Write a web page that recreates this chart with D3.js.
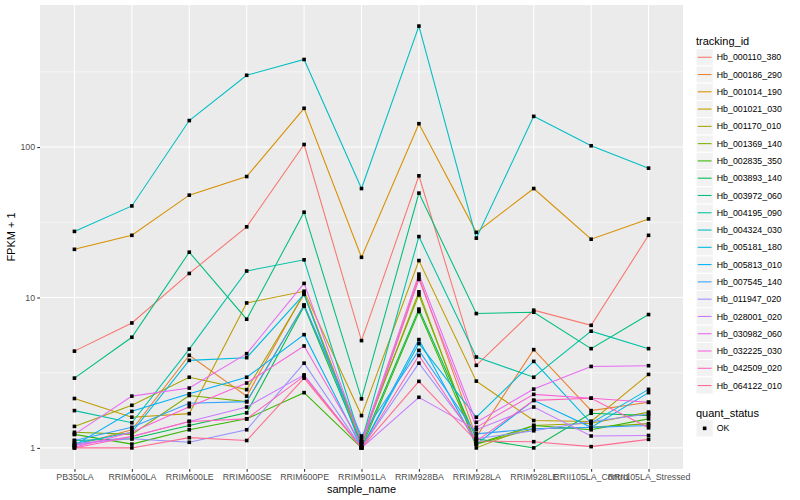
<!DOCTYPE html>
<html>
<head>
<meta charset="utf-8">
<script src="https://cdn.jsdelivr.net/npm/d3@7"></script>
<style>
  body { margin: 0; background: #fff; }
  text { font-family: "Liberation Sans", Arial, sans-serif; }
</style>
</head>
<body>
<svg id="chart" width="800" height="500"></svg>
<script>
// x categories
var samples = ["PB350LA", "RRIM600LA", "RRIM600LE", "RRIM600SE", "RRIM600PE", "RRIM901LA",
  "RRIM928BA", "RRIM928LA", "RRIM928LE", "RRII105LA_Control", "RRII105LA_Stressed"];

// series names and colours (ggplot hue palette)
var trackingIds = ["Hb_000110_380", "Hb_000186_290", "Hb_001014_190", "Hb_001021_030", "Hb_001170_010",
  "Hb_001369_140", "Hb_002835_350", "Hb_003893_140", "Hb_003972_060", "Hb_004195_090",
  "Hb_004324_030", "Hb_005181_180", "Hb_005813_010", "Hb_007545_140", "Hb_011947_020",
  "Hb_028001_020", "Hb_030982_060", "Hb_032225_030", "Hb_042509_020", "Hb_064122_010"];
var colors = ["#F8766D", "#EA8331", "#D89000", "#C09B00", "#A3A500", "#7CAE00", "#39B600", "#00BB4E",
  "#00BF7D", "#00C1A3", "#00BFC4", "#00BAE0", "#00B0F6", "#35A2FF", "#9590FF", "#C77CFF",
  "#E76BF3", "#FA62DB", "#FF62BC", "#FF6C91"];

// FPKM + 1, one array per tracking id, in sample order
var fpkm = [
  [4.4, 6.77, 14.45, 29.5, 104, 5.17, 64.4, 3.54, 8.23, 6.53, 25.9],
  [1.04, 1.32, 4.13, 2.21, 10.7, 1.05, 13.7, 1.18, 4.5, 1.77, 2.01],
  [20.9, 25.9, 47.9, 63.7, 181, 18.5, 143, 27.1, 53, 24.4, 33.3],
  [2.13, 1.6, 1.69, 9.2, 11.0, 1.64, 17.6, 2.78, 1.52, 1.50, 3.08],
  [1.39, 1.92, 2.95, 2.44, 10.5, 1.1, 10.9, 1.0, 1.41, 1.46, 1.73],
  [1.27, 1.23, 2.23, 2.03, 8.9, 1.15, 10.4, 1.06, 1.34, 1.37, 1.45],
  [1.23, 1.06, 1.32, 1.56, 2.33, 1.0, 8.07, 1.06, 1.41, 1.32, 1.56],
  [1.12, 1.15, 1.41, 1.71, 8.74, 1.05, 8.37, 1.15, 1.0, 1.70, 1.64],
  [2.91, 5.44, 20, 7.17, 36.9, 2.12, 49.4, 7.82, 7.98, 4.57, 7.7],
  [1.77, 1.47, 4.54, 15.0, 17.8, 1.1, 25.4, 4.02, 2.95, 5.97, 4.57],
  [27.5, 40.6, 150, 300, 382, 53, 637, 24.8, 160, 102, 72.4],
  [1.07, 1.27, 3.82, 3.98, 10.5, 1.0, 4.94, 1.6, 3.76, 1.46, 2.45],
  [1.04, 1.75, 2.29, 2.95, 5.66, 1.0, 5.25, 1.06, 2.07, 1.37, 2.33],
  [1.12, 1.37, 1.98, 2.03, 8.9, 1.2, 4.45, 1.24, 1.34, 1.37, 1.41],
  [1.07, 1.15, 1.09, 1.32, 3.66, 1.0, 3.66, 1.15, 1.30, 1.50, 1.68],
  [1.04, 1.19, 1.50, 1.87, 3.06, 1.0, 2.17, 1.32, 1.87, 1.20, 1.21],
  [1.23, 2.21, 2.5, 4.23, 12.4, 1.1, 14.3, 1.48, 2.46, 3.48, 3.52],
  [1.01, 1.27, 1.88, 2.70, 4.76, 1.05, 13.2, 1.37, 2.27, 2.14, 2.01],
  [1.0, 1.19, 1.5, 1.56, 3.0, 1.0, 4.12, 1.11, 2.07, 2.14, 1.36],
  [1.0, 1.0, 1.17, 1.12, 2.91, 1.0, 2.77, 1.11, 1.10, 1.02, 1.14]
];

var yTicks = [1, 10, 100];
var yMinor = [Math.pow(10, 0.5), Math.pow(10, 1.5), Math.pow(10, 2.5)];

var margin = {left: 40, top: 5, right: 117, bottom: 31};
var width = 800 - margin.left - margin.right;
var height = 500 - margin.top - margin.bottom;

var svg = d3.select("#chart");
var g = svg.append("g")
    .attr("transform", "translate(" + margin.left + "," + margin.top + ")");

// scales
var x = d3.scalePoint()
    .domain(samples)
    .range([0, width])
    .padding(0.6);

var allVals = fpkm.flat();
var lo = Math.log10(d3.min(allVals)), hi = Math.log10(d3.max(allVals));
var pad = (hi - lo) * 0.05;
var y = d3.scaleLog()
    .domain([Math.pow(10, lo - pad), Math.pow(10, hi + pad)])
    .range([height, 0]);

// panel
g.append("rect")
    .attr("width", width)
    .attr("height", height)
    .attr("fill", "#EBEBEB");

// gridlines
g.append("g").selectAll("line")
    .data(yMinor)
    .join("line")
    .attr("x1", 0).attr("x2", width)
    .attr("y1", d => y(d)).attr("y2", d => y(d))
    .attr("stroke", "#fff")
    .attr("stroke-width", 0.53);

g.append("g").selectAll("line")
    .data(yTicks)
    .join("line")
    .attr("x1", 0).attr("x2", width)
    .attr("y1", d => y(d)).attr("y2", d => y(d))
    .attr("stroke", "#fff")
    .attr("stroke-width", 1.07);

g.append("g").selectAll("line")
    .data(samples)
    .join("line")
    .attr("x1", d => x(d)).attr("x2", d => x(d))
    .attr("y1", 0).attr("y2", height)
    .attr("stroke", "#fff")
    .attr("stroke-width", 1.07);

// lines
var line = d3.line()
    .x((d, i) => x(samples[i]))
    .y(d => y(d));

g.append("g").selectAll("path")
    .data(fpkm)
    .join("path")
    .attr("d", d => line(d))
    .attr("fill", "none")
    .attr("stroke", (d, i) => colors[i])
    .attr("stroke-width", 1.07);

// points
var pts = [];
fpkm.forEach(function(s) {
    s.forEach(function(v, i) { pts.push({s: samples[i], v: v}); });
});
var ps = 3.6;
g.append("g").selectAll("rect")
    .data(pts)
    .join("rect")
    .attr("x", d => x(d.s) - ps / 2)
    .attr("y", d => y(d.v) - ps / 2)
    .attr("width", ps)
    .attr("height", ps)
    .attr("fill", "#000");

// axes
var xAxis = g.append("g")
    .attr("transform", "translate(0," + height + ")")
    .call(d3.axisBottom(x).tickSizeInner(2.75).tickSizeOuter(0).tickPadding(2.2));
var yAxis = g.append("g")
    .call(d3.axisLeft(y).tickValues(yTicks).tickFormat(d3.format("d"))
        .tickSizeInner(2.75).tickSizeOuter(0).tickPadding(2.2));

[xAxis, yAxis].forEach(function(a) {
    a.select(".domain").remove();
    a.selectAll(".tick line").attr("stroke", "#333333").attr("stroke-width", 1.07);
    a.selectAll(".tick text").attr("fill", "#4D4D4D").style("font-size", "8.8px")
        .style("font-family", "Liberation Sans, Arial, sans-serif");
});

// axis titles
svg.append("text")
    .attr("x", margin.left + width / 2)
    .attr("y", 493)
    .attr("text-anchor", "middle")
    .style("font-size", "11px")
    .text("sample_name");

svg.append("text")
    .attr("transform", "translate(15," + (margin.top + height / 2) + ") rotate(-90)")
    .attr("text-anchor", "middle")
    .style("font-size", "11px")
    .text("FPKM + 1");

// legend: tracking_id
var lg = svg.append("g").attr("transform", "translate(696,0)");
var keyH = 17.28, key0 = 48.6;
lg.append("text")
    .attr("x", 0).attr("y", 44.5)
    .style("font-size", "11px")
    .text("tracking_id");

var items = lg.selectAll("g.item")
    .data(trackingIds)
    .join("g")
    .attr("class", "item")
    .attr("transform", (d, i) => "translate(0," + (key0 + i * keyH) + ")");

items.append("rect")
    .attr("width", keyH).attr("height", keyH)
    .attr("fill", "#F2F2F2").attr("stroke", "#fff").attr("stroke-width", 1);
items.append("line")
    .attr("x1", 1.7).attr("x2", keyH - 1.7)
    .attr("y1", keyH / 2).attr("y2", keyH / 2)
    .attr("stroke", (d, i) => colors[i])
    .attr("stroke-width", 1.07);
items.append("text")
    .attr("x", keyH + 3.5)
    .attr("y", keyH / 2 + 3.1)
    .style("font-size", "8.8px")
    .text(d => d);

// legend: quant_status
var qg = svg.append("g").attr("transform", "translate(696,0)");
qg.append("text")
    .attr("x", 0).attr("y", 416.5)
    .style("font-size", "11px")
    .text("quant_status");
qg.append("rect")
    .attr("y", 419.7)
    .attr("width", keyH).attr("height", keyH)
    .attr("fill", "#F2F2F2").attr("stroke", "#fff");
qg.append("rect")
    .attr("x", keyH / 2 - ps / 2).attr("y", 419.7 + keyH / 2 - ps / 2)
    .attr("width", ps).attr("height", ps)
    .attr("fill", "#000");
qg.append("text")
    .attr("x", keyH + 3.5)
    .attr("y", 419.7 + keyH / 2 + 3.1)
    .style("font-size", "8.8px")
    .text("OK");
</script>
</body>
</html>
